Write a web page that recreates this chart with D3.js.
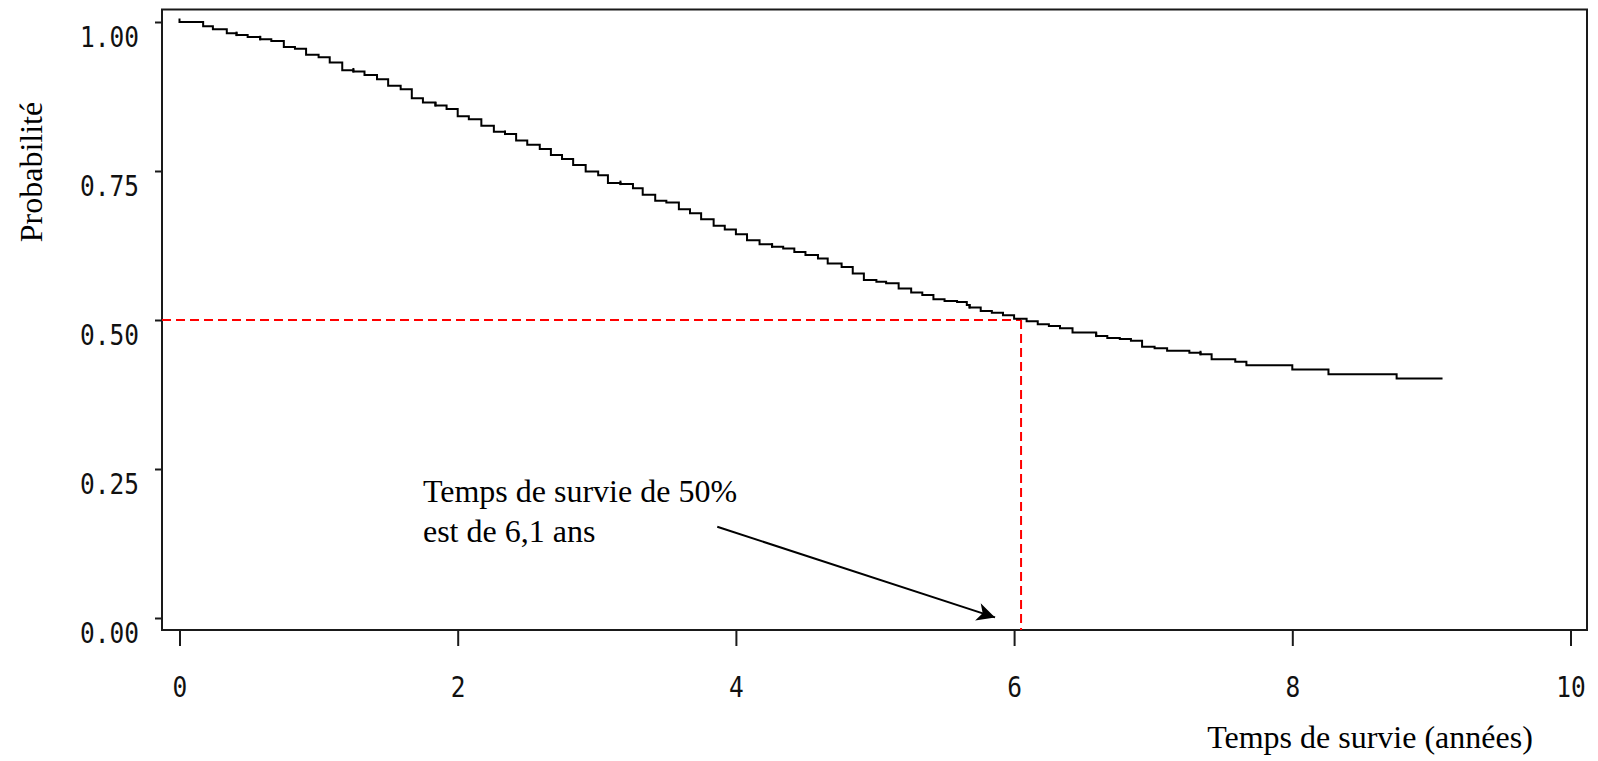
<!DOCTYPE html>
<html>
<head>
<meta charset="utf-8">
<script src="https://cdn.jsdelivr.net/npm/d3@7"></script>
<style>
  html, body { margin: 0; padding: 0; background: #fff; }
  svg { display: block; }
</style>
</head>
<body>
<svg id="chart" width="1598" height="761"></svg>
<script>
// ---------- data ----------
const stepTimes = [0, 0.17, 0.24, 0.34, 0.41, 0.49, 0.58, 0.66, 0.75, 0.83, 0.91, 1.00, 1.08, 1.17, 1.25, 1.33, 1.42, 1.50, 1.59,
  1.67, 1.75, 1.84, 1.92, 2.00, 2.08, 2.17, 2.26, 2.34, 2.42, 2.50, 2.59, 2.67, 2.75, 2.83, 2.92, 3.01, 3.08, 3.17, 3.26,
  3.33, 3.42, 3.50, 3.59, 3.67, 3.75, 3.84, 3.92, 4.00, 4.08, 4.17, 4.26, 4.34, 4.42, 4.50, 4.59, 4.66, 4.76, 4.84,
  4.92, 5.01, 5.08, 5.17, 5.26, 5.34, 5.42, 5.50, 5.59, 5.66, 5.68, 5.76, 5.84, 5.92, 6.00, 6.09, 6.17, 6.25, 6.33, 6.42,
  6.59, 6.67, 6.76, 6.84, 6.92, 7.01, 7.10, 7.26, 7.34, 7.42, 7.59, 7.67, 8.00, 8.26, 8.75];
const survival = [1.000, 0.993, 0.988, 0.981, 0.978, 0.975, 0.971, 0.968, 0.958, 0.955, 0.945, 0.941, 0.932, 0.919, 0.917, 0.911, 0.904, 0.893, 0.887,
  0.872, 0.865, 0.860, 0.854, 0.842, 0.837, 0.826, 0.816, 0.812, 0.801, 0.794, 0.787, 0.777, 0.770, 0.760, 0.749, 0.743, 0.730, 0.728, 0.721,
  0.710, 0.700, 0.697, 0.686, 0.679, 0.669, 0.658, 0.652, 0.644, 0.634, 0.627, 0.623, 0.620, 0.614, 0.609, 0.603, 0.595, 0.589, 0.578,
  0.567, 0.564, 0.5615, 0.553, 0.546, 0.542, 0.535, 0.532, 0.530, 0.525, 0.521, 0.515, 0.512, 0.508, 0.502, 0.498, 0.493, 0.490, 0.486, 0.479,
  0.473, 0.470, 0.468, 0.465, 0.455, 0.4525, 0.4485, 0.445, 0.4425, 0.434, 0.430, 0.424, 0.417, 0.409, 0.402];
const lastFollowUp = 9.08;
const censorTimes = [0, 0.41, 0.58, 1.25, 1.84, 2.34, 3.17, 4.26, 5.68, 6.59, 7.34];
const medianSurvival = 6.05;
const medianLevel = 0.5;
const xTicks = [0, 2, 4, 6, 8, 10];
const yTicks = [0, 0.25, 0.5, 0.75, 1.0];
const yTickLabels = ["0.00", "0.25", "0.50", "0.75", "1.00"];
const xTitle = "Temps de survie (années)";
const yTitle = "Probabilité";
const noteLines = ["Temps de survie de 50%", "est de 6,1 ans"];
const noteAnchor = { t: 1.75, s: 0.195 };
const arrowFrom = { t: 3.866, s: 0.153 };
const arrowTo = { t: 5.863, s: 0.001 };

// ---------- layout ----------
const svg = d3.select("#chart");
const frame = { left: 162, right: 1587, top: 9.5, bottom: 630 };
const x = d3.scaleLinear().domain([0, 10]).range([179.5, 1570.5]);
const y = d3.scaleLinear().domain([0, 1]).range([618, 22]);
const serif = "'Liberation Serif', 'Times New Roman', Times, serif";
const mono = "'DejaVu Sans Mono', monospace";

// frame
svg.append("rect")
  .attr("x", frame.left).attr("y", frame.top)
  .attr("width", frame.right - frame.left).attr("height", frame.bottom - frame.top)
  .attr("fill", "none").attr("stroke", "#1a1a1a").attr("stroke-width", 2);

// x axis
const gx = svg.append("g").attr("transform", `translate(0,${frame.bottom})`)
  .call(d3.axisBottom(x).tickValues(xTicks).tickSize(16).tickSizeOuter(0).tickFormat(d3.format("d")));
gx.select(".domain").remove();
gx.selectAll(".tick line").attr("stroke", "#1a1a1a").attr("stroke-width", 2);
gx.selectAll(".tick text")
  .attr("y", 0).attr("dy", 0)
  .attr("transform", "translate(0,67) scale(1,1.17)")
  .attr("font-family", mono).attr("font-size", 24.5).attr("fill", "#111");

// y axis
const gy = svg.append("g").attr("transform", `translate(${frame.left},0)`)
  .call(d3.axisLeft(y).tickValues(yTicks).tickSize(7).tickSizeOuter(0).tickFormat((d, i) => yTickLabels[i]));
gy.select(".domain").remove();
gy.selectAll(".tick line").attr("stroke", "#1a1a1a").attr("stroke-width", 2);
gy.selectAll(".tick text")
  .attr("x", 0).attr("dy", 0)
  .attr("text-anchor", "end")
  .attr("transform", "translate(-23,24) scale(1,1.17)")
  .attr("font-family", mono).attr("font-size", 24.5).attr("fill", "#111");

// titles
svg.append("text")
  .attr("x", 1370).attr("y", 748)
  .attr("text-anchor", "middle")
  .attr("font-family", serif).attr("font-size", 32).attr("fill", "#000")
  .text(xTitle);
svg.append("text")
  .attr("transform", "translate(42,172) rotate(-90)")
  .attr("text-anchor", "middle")
  .attr("font-family", serif).attr("font-size", 32).attr("fill", "#000")
  .text(yTitle);

// median reference lines
svg.append("line")
  .attr("x1", frame.left).attr("x2", x(medianSurvival))
  .attr("y1", y(medianLevel)).attr("y2", y(medianLevel))
  .attr("stroke", "#ff0000").attr("stroke-width", 2).attr("stroke-dasharray", "9,5");
svg.append("line")
  .attr("x1", x(medianSurvival)).attr("x2", x(medianSurvival))
  .attr("y1", y(medianLevel)).attr("y2", frame.bottom)
  .attr("stroke", "#ff0000").attr("stroke-width", 2).attr("stroke-dasharray", "9,5");

// survival curve
const pts = stepTimes.map((t, i) => ({ t, s: survival[i] }));
pts.push({ t: lastFollowUp, s: survival[survival.length - 1] });
const line = d3.line().x(d => x(d.t)).y(d => y(d.s)).curve(d3.curveStepAfter);
svg.append("path").datum(pts)
  .attr("d", line)
  .attr("fill", "none").attr("stroke", "#000").attr("stroke-width", 2);

// censor marks
const survAt = t => {
  let s = 1;
  for (let i = 0; i < stepTimes.length; i++) { if (stepTimes[i] <= t) s = survival[i]; }
  return s;
};
svg.append("g").selectAll("line").data(censorTimes).join("line")
  .attr("x1", d => x(d)).attr("x2", d => x(d))
  .attr("y1", d => y(survAt(d)) - 3.5).attr("y2", d => y(survAt(d)) + 1)
  .attr("stroke", "#000").attr("stroke-width", 2);

// annotation
const note = svg.append("text")
  .attr("font-family", serif).attr("font-size", 32).attr("fill", "#000");
noteLines.forEach((l, i) => {
  note.append("tspan")
    .attr("x", x(noteAnchor.t)).attr("y", y(noteAnchor.s) + i * 40)
    .text(l);
});

svg.append("defs").append("marker")
  .attr("id", "arrowHead")
  .attr("markerUnits", "userSpaceOnUse")
  .attr("markerWidth", 24).attr("markerHeight", 24)
  .attr("viewBox", "-20 -10 24 20")
  .attr("refX", 0).attr("refY", 0)
  .attr("orient", "auto")
  .append("path")
  .attr("d", "M0,0 L-18,-9 L-13,0 L-18,9 Z")
  .attr("fill", "#000");

svg.append("line")
  .attr("x1", x(arrowFrom.t)).attr("y1", y(arrowFrom.s))
  .attr("x2", x(arrowTo.t)).attr("y2", y(arrowTo.s))
  .attr("stroke", "#000").attr("stroke-width", 2)
  .attr("marker-end", "url(#arrowHead)");
</script>
</body>
</html>
